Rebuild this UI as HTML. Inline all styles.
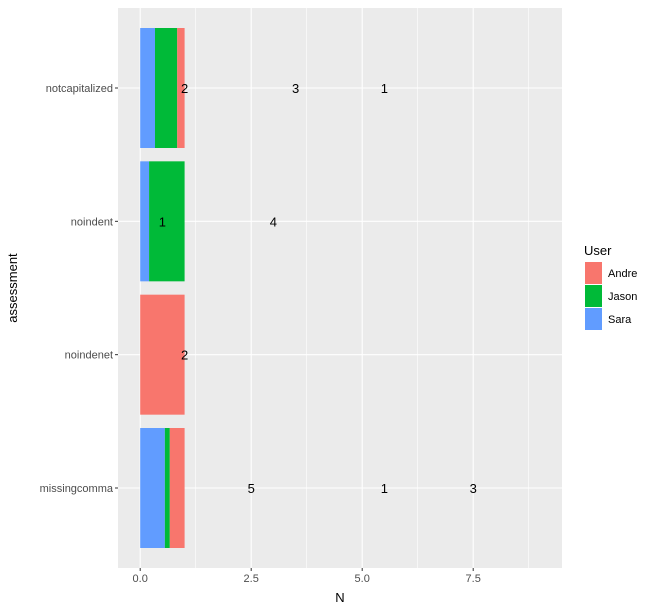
<!DOCTYPE html>
<html><head><meta charset="utf-8"><style>
body{margin:0;background:#fff;}
svg text{font-family:"Liberation Sans",Arial,sans-serif;}
</style></head><body>
<svg id="chart" width="658" height="609"></svg>
<script>
const categories=["notcapitalized","noindent","noindenet","missingcomma"];
const users=["Sara","Jason","Andre"];
const sara=[2,1,0,5];
const jason=[3,4,0,1];
const andre=[1,0,2,3];
const xTicks=[0,2.5,5,7.5];
const xTickLabels=["0.0","2.5","5.0","7.5"];
const colors={Andre:"#F8766D",Jason:"#00BA38",Sara:"#619CFF"};
const NS="http://www.w3.org/2000/svg";
const svg=document.getElementById('chart');
const pL=118,pR=562,pT=8,pB=568;
const xMin=-0.5,xMax=9.5;
const X=v=>pL+(v-xMin)/(xMax-xMin)*(pR-pL);
const bandH=(pB-pT)/(categories.length-1+1.2);
const Y=i=>pT+bandH*(i+0.6);
function el(t,a,p){const e=document.createElementNS(NS,t);for(const k in a)e.setAttribute(k,a[k]);(p||svg).appendChild(e);return e;}
const panel=el('rect',{x:pL,y:pT,width:pR-pL,height:pB-pT,fill:'#EBEBEB'});


for(let i=0;i<xTicks.length;i++){
  const m=xTicks[i]+1.25;
  if(m<xMax) el('line',{x1:X(m),x2:X(m),y1:pT,y2:pB,stroke:'#fff','stroke-width':0.6});
}
xTicks.forEach((t,i)=>{
  const g=el('line',{x1:X(t),x2:X(t),y1:pT,y2:pB,stroke:'#fff','stroke-width':1.1});
  
  
  el('line',{x1:X(t),x2:X(t),y1:pB,y2:pB+3,stroke:'#333'});
  const tx=el('text',{x:X(t),y:pB+14,'text-anchor':'middle','font-size':11,fill:'#4D4D4D'});
  tx.textContent=xTickLabels[i];
  
  
});
const series={Sara:sara,Jason:jason,Andre:andre};
categories.forEach((c,i)=>{
  const y=Y(i);
  el('line',{x1:pL,x2:pR,y1:y,y2:y,stroke:'#fff','stroke-width':1.1});
  el('line',{x1:pL-3,x2:pL,y1:y,y2:y,stroke:'#333'});
  const lab=el('text',{x:pL-5,y:y+4,'text-anchor':'end','font-size':11,fill:'#4D4D4D'});
  lab.textContent=c;
  
  
  const total=users.reduce((s,u)=>s+series[u][i],0);
  let f=0;
  users.forEach(u=>{
    const v=series[u][i];if(!v)return;
    const r=el('rect',{x:X(f),y:y-bandH*0.45,width:X(f+v/total)-X(f),height:bandH*0.9,fill:colors[u]});
    
    
    f+=v/total;
  });
  let cum=0;
  users.forEach(u=>{
    const v=series[u][i];if(!v)return;
    const t=el('text',{x:X(cum+v/2),y:y+5,'text-anchor':'middle','font-size':13,fill:'#000'});
    t.textContent=v;
    
    
    cum+=v;
  });
});
const xt=el('text',{x:(pL+pR)/2,y:602,'text-anchor':'middle','font-size':13,fill:'#000'});xt.textContent='N';


const yt=el('text',{x:0,y:0,transform:'translate(17,'+((pT+pB)/2)+') rotate(-90)','text-anchor':'middle','font-size':13,fill:'#000'});yt.textContent='assessment';


const lg=el('g',{});


const lt=el('text',{x:584,y:255,'font-size':13,fill:'#000'},lg);lt.textContent='User';
["Andre","Jason","Sara"].forEach((u,k)=>{
  const yy=262+k*23;
  const r=el('rect',{x:585,y:yy,width:17,height:22,fill:colors[u]},lg);
  
  
  const t=el('text',{x:608,y:yy+15,'font-size':11,fill:'#000'},lg);t.textContent=u;
  
  
});
</script>
</body></html>
